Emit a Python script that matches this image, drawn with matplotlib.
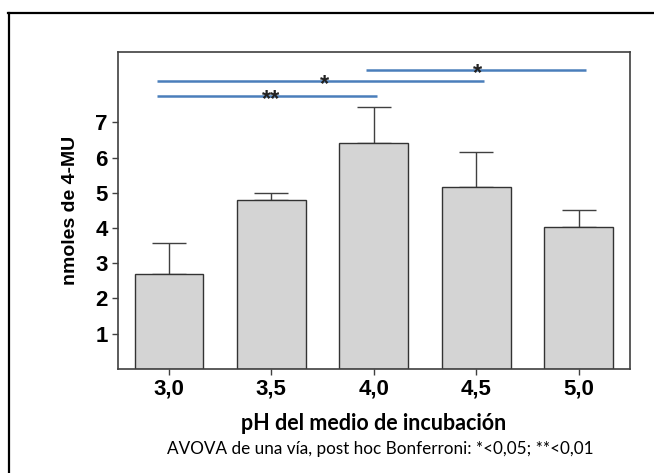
import matplotlib.pyplot as plt
from matplotlib.lines import Line2D

# data
ph_labels = ['3,0', '3,5', '4,0', '4,5', '5,0']
mean_mu = [2.7, 4.8, 6.4, 5.15, 4.02]
err_mu = [0.88, 0.2, 1.03, 1.0, 0.5]

# significance lines (x start, x end, y, stars, star x)
sig_x0 = [-0.12, -0.12, 1.92]
sig_x1 = [2.03, 3.08, 4.07]
sig_y = [7.76, 8.19, 8.48]
sig_txt = ['**', '*', '*']
sig_tx = [1.0, 1.52, 3.01]

fig = plt.figure(figsize=(6.54, 4.73), dpi=100)
ax = fig.add_axes([117.6/654, 1 - 368.7/473, (630 - 117.6)/654, (368.7 - 52)/473])

xs = list(range(len(ph_labels)))
ax.bar(xs, mean_mu, width=0.67, color='#d4d4d4', edgecolor='#333333', linewidth=1, zorder=2)
ax.errorbar(xs, mean_mu, yerr=[[0]*len(err_mu), err_mu], fmt='none',
            ecolor='#404040', elinewidth=1, capsize=12, capthick=1, zorder=1)

for x0, x1, y, t, tx in zip(sig_x0, sig_x1, sig_y, sig_txt, sig_tx):
    ax.plot([x0, x1], [y, y], color='#4a7ebb', lw=1.8, solid_capstyle='butt')
    ax.text(tx, y - 0.1, t, ha='center', va='center', fontsize=17, color='#222222',
            family='Liberation Sans', fontweight='bold')

ax.set_xlim(-0.5, 4.5)
ax.set_ylim(0, 9)
ax.set_xticks(xs)
ax.set_xticklabels(ph_labels)
ax.set_yticks([1, 2, 3, 4, 5, 6, 7])
for lab in ax.get_xticklabels() + ax.get_yticklabels():
    lab.set_family('Liberation Sans')
    lab.set_fontweight('bold')
    lab.set_fontsize(16)
ax.tick_params(axis='both', direction='out', length=4, width=1, color='#404040', pad=3)
for s in ax.spines.values():
    s.set_color('#404040')
    s.set_linewidth(1.2)

ax.set_ylabel('nmoles de 4-MU', family='Liberation Sans', fontweight='bold', fontsize=14)
ax.yaxis.set_label_coords(-0.075, 0.5)
ax.set_xlabel('pH del medio de incubación', family='Lato', fontweight='bold',
              fontsize=15.5, labelpad=10)
fig.text(380/654, 1 - 449/473, 'AVOVA de una vía, post hoc Bonferroni: *<0,05; **<0,01',
         ha='center', va='center', family='Lato', fontsize=12.3)

# outer frame (only left and top visible)
fig.add_artist(Line2D([8.5/654, 8.5/654], [0, 1 - 13/473], transform=fig.transFigure,
                      color='black', lw=1.6))
fig.add_artist(Line2D([8/654, 1], [1 - 13.5/473, 1 - 13.5/473], transform=fig.transFigure,
                      color='black', lw=1.6))

fig.savefig('out.png', dpi=100)
